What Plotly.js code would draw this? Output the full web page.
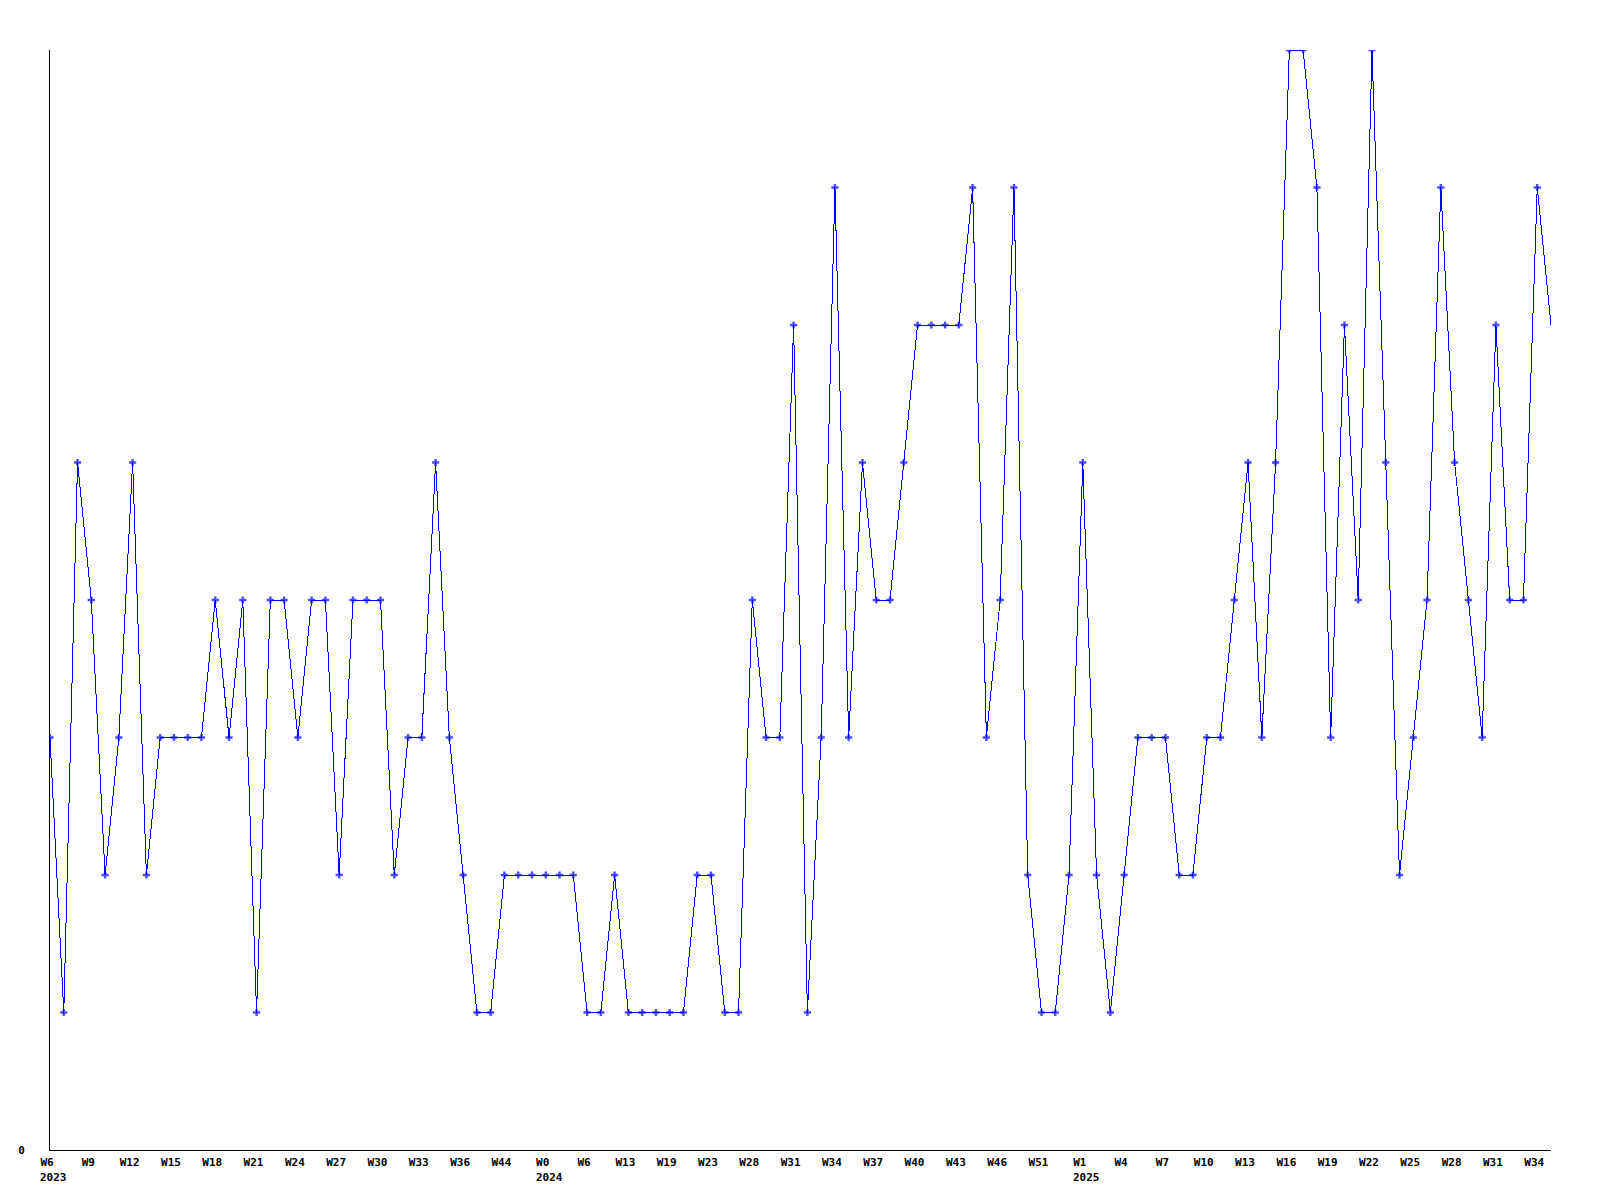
<!DOCTYPE html>
<html>
<head>
<meta charset="utf-8">
<script src="https://cdn.plot.ly/plotly-3.0.1.min.js"></script>
<style>
  html, body { margin: 0; padding: 0; background: #fff; }
  #chart { width: 1600px; height: 1200px; }
  #chart .scatterlayer path.js-line { shape-rendering: crispEdges; }
</style>
</head>
<body>
<div id="chart"></div>
<script>
// Values per week (one point per sample, in order)
const values = [
  3, 1, 5, 4, 2, 3, 5, 2, 3, 3,
  3, 3, 4, 3, 4, 1, 4, 4, 3, 4,
  4, 2, 4, 4, 4, 2, 3, 3, 5, 3,
  2, 1, 1, 2, 2, 2, 2, 2, 2, 1,
  1, 2, 1, 1, 1, 1, 1, 2, 2, 1,
  1, 4, 3, 3, 6, 1, 3, 7, 3, 5,
  4, 4, 5, 6, 6, 6, 6, 7, 3, 4,
  7, 2, 1, 1, 2, 5, 2, 1, 2, 3,
  3, 3, 2, 2, 3, 3, 4, 5, 3, 5,
  8, 8, 7, 3, 6, 4, 8, 5, 2, 3,
  4, 7, 5, 4, 3, 6, 4, 4, 7, 6
];

// Week tick labels, one every 3 samples
const weekLabels = [
  "W6", "W9", "W12", "W15", "W18", "W21", "W24", "W27", "W30", "W33",
  "W36", "W44", "W0", "W6", "W13", "W19", "W23", "W28", "W31", "W34",
  "W37", "W40", "W43", "W46", "W51", "W1", "W4", "W7", "W10", "W13",
  "W16", "W19", "W22", "W25", "W28", "W31", "W34"
];
const tickStep = 3;

// Year labels and the tick slot (index in weekLabels) they sit under
const yearLabels = ["2023", "2024", "2025"];
const yearTickSlots = [0, 12, 25];

const xs = values.map((_, i) => i);
const tickVals = weekLabels.map((_, k) => k * tickStep);

const fontFamily = "'DejaVu Sans Mono', 'Liberation Mono', monospace";
const fontSize = 11;
const charW = fontSize * 0.602;
const labelShift = -3;

const trace = {
  x: xs,
  y: values,
  type: 'scatter',
  mode: 'lines+markers',
  line: { color: '#0000ff', width: 1 },
  marker: {
    symbol: 'cross',
    color: '#0000ff',
    size: values.map((_, i) => i === values.length - 1 ? 0 : 6),
    line: { width: 0 }
  },
  hoverinfo: 'skip',
  showlegend: false
};

const annotations = yearLabels.map((yl, j) => {
  const slot = yearTickSlots[j];
  const wl = weekLabels[slot];
  return {
    text: yl,
    x: slot * tickStep,
    xref: 'x',
    y: 0,
    yref: 'paper',
    xanchor: 'left',
    yanchor: 'middle',
    xshift: -(wl.length * charW) / 2 + labelShift - 1,
    yshift: -27,
    borderpad: 0,
    showarrow: false,
    font: { family: fontFamily, size: fontSize, color: '#000', weight: 'bold' }
  };
});

const layout = {
  width: 1600,
  height: 1200,
  paper_bgcolor: '#ffffff',
  plot_bgcolor: '#ffffff',
  margin: { l: 50, r: 49, t: 50, b: 50, pad: 0 },
  showlegend: false,
  xaxis: {
    type: 'linear',
    range: [0, values.length - 1],
    showgrid: false,
    zeroline: false,
    showline: true,
    linecolor: '#000',
    linewidth: 1,
    ticks: '',
    tickmode: 'array',
    tickvals: tickVals,
    ticktext: weekLabels,
    tickangle: 0,
    ticklabelstandoff: 2,
    ticklabelshift: labelShift,
    tickfont: { family: fontFamily, size: fontSize, color: '#000', weight: 'bold' },
    fixedrange: true
  },
  yaxis: {
    range: [0, 8],
    showgrid: false,
    zeroline: false,
    showline: true,
    linecolor: '#000',
    linewidth: 1,
    ticks: '',
    tickmode: 'array',
    tickvals: [0],
    ticktext: ['0'],
    ticklabelstandoff: 22,
    tickfont: { family: fontFamily, size: fontSize, color: '#000', weight: 'bold' },
    fixedrange: true
  },
  annotations: annotations
};

Plotly.newPlot('chart', [trace], layout, { displayModeBar: false, staticPlot: true });
</script>
</body>
</html>
